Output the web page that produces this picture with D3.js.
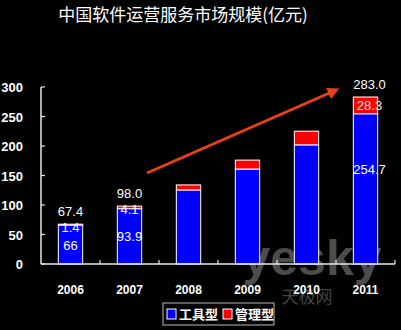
<!DOCTYPE html>
<html>
<head>
<meta charset="utf-8">
<script src="https://cdn.jsdelivr.net/npm/d3@7"></script>
<style>
  body { margin: 0; background: #000; }
  text { font-family: "Liberation Sans", Arial, sans-serif; }
</style>
</head>
<body>
<svg id="chart" width="401" height="330"></svg>
<script>
// data
const years = ["2006", "2007", "2008", "2009", "2010", "2011"];
const toolType = [66, 93.9, 125.5, 161, 202, 254.7];
const mgmtType = [1.4, 4.1, 8.5, 15, 23, 28.3];
const totals = [67.4, 98.0, 134, 176, 225, 283.0];
const yTicks = [0, 50, 100, 150, 200, 250, 300];
const seriesNames = ["工具型", "管理型"];
const seriesColors = ["#0000ff", "#ff0000"];

const svg = d3.select("#chart");
svg.append("rect").attr("width", 401).attr("height", 330).attr("fill", "#000");

const x = d3.scaleBand().domain(years).range([41, 395]).paddingInner(0.59).paddingOuter(0.295);
const y = d3.scaleLinear().domain([0, 300]).range([264, 87]);

// title
svg.append("text")
  .attr("x", 183).attr("y", 21)
  .attr("text-anchor", "middle")
  .attr("fill", "#fff")
  .style("font-family", "'Noto Sans CJK SC', sans-serif")
  .style("font-size", "17px")
  .text("中国软件运营服务市场规模(亿元)");

// watermark
const wm = svg.append("g").attr("opacity", 0.55);
wm.append("text").attr("x", 312).attr("y", 275).attr("text-anchor", "middle")
  .attr("fill", "#8a8a8a").style("font-size", "50px").style("font-weight", "bold")
  .text("yesky");
wm.append("text").attr("x", 307).attr("y", 303).attr("text-anchor", "middle")
  .attr("fill", "#7a7a7a").style("font-family", "'Noto Sans CJK SC', sans-serif")
  .style("font-size", "17px").text("天极网");

// stacked bars
const stack = years.map((yr, i) => ({ year: yr, a: toolType[i], b: mgmtType[i] }));

const bars = svg.append("g");
bars.selectAll(".tool").data(stack).enter().append("rect")
  .attr("x", d => x(d.year))
  .attr("width", x.bandwidth())
  .attr("y", d => y(d.a))
  .attr("height", d => y(0) - y(d.a))
  .attr("fill", seriesColors[0])
  .attr("stroke", "#d8d8ff").attr("stroke-width", 1.2);

bars.selectAll(".mgmt").data(stack).enter().append("rect")
  .attr("x", d => x(d.year))
  .attr("width", x.bandwidth())
  .attr("y", d => y(d.a + d.b))
  .attr("height", d => y(d.a) - y(d.a + d.b))
  .attr("fill", seriesColors[1])
  .attr("stroke", "#ffd8d8").attr("stroke-width", 1.2);

// axes
const axisColor = "#e8e8e8";
svg.append("line").attr("x1", 41).attr("x2", 41).attr("y1", y(300)).attr("y2", y(0))
  .attr("stroke", axisColor).attr("stroke-width", 1.5);
svg.append("line").attr("x1", 41).attr("x2", 395).attr("y1", y(0)).attr("y2", y(0))
  .attr("stroke", axisColor).attr("stroke-width", 1.5);

svg.selectAll(".ytick").data(yTicks).enter().append("line")
  .attr("x1", 41).attr("x2", 45)
  .attr("y1", d => y(d)).attr("y2", d => y(d))
  .attr("stroke", axisColor).attr("stroke-width", 1.2);

svg.selectAll(".ylab").data(yTicks).enter().append("text")
  .attr("x", 23).attr("y", d => y(d) + 5)
  .attr("text-anchor", "end")
  .attr("fill", "#fff")
  .style("font-size", "13px").style("font-weight", "bold")
  .text(d => d);

const step = x.step();
svg.selectAll(".xtick").data(years).enter().append("line")
  .attr("x1", d => x(d) - x.paddingOuter() * step + step)
  .attr("x2", d => x(d) - x.paddingOuter() * step + step)
  .attr("y1", y(0)).attr("y2", y(0) - 4)
  .attr("stroke", axisColor).attr("stroke-width", 1.2);

svg.selectAll(".xlab").data(years).enter().append("text")
  .attr("x", d => x(d) + x.bandwidth() / 2)
  .attr("y", 294)
  .attr("text-anchor", "middle")
  .attr("fill", "#fff")
  .style("font-size", "12px").style("font-weight", "bold")
  .text(d => d);

// value labels (only the years that carry them)
const labelled = [0, 1, 5];
const lab = svg.append("g").attr("fill", "#fff").style("font-size", "13px").attr("text-anchor", "middle");
labelled.forEach(i => {
  const cx = x(years[i]) + x.bandwidth() / 2 + (i === 5 ? 4 : 0);
  lab.append("text").attr("x", cx).attr("y", y(totals[i]) - 8).text(totals[i].toFixed(1));
  lab.append("text").attr("x", cx).attr("y", y(toolType[i] + mgmtType[i] / 2) + 5 + (i === 5 ? 0 : 2))
    .attr("fill", i === 5 ? "#ffe0e0" : "#fff").text(mgmtType[i].toFixed(1));
  const mid = i === 5 ? y(toolType[i] * 0.6) : y(toolType[i] / 2) + 5;
  lab.append("text").attr("x", cx).attr("y", mid)
    .text(i === 0 ? "66" : toolType[i].toFixed(1));
});

// growth arrow
svg.append("defs").append("marker")
  .attr("id", "head").attr("viewBox", "0 0 10 10")
  .attr("refX", 5).attr("refY", 5)
  .attr("markerWidth", 4).attr("markerHeight", 4)
  .attr("orient", "auto")
  .append("path").attr("d", "M0,0L10,5L0,10z").attr("fill", "#e8401c");

svg.append("line")
  .attr("x1", 147).attr("y1", 173).attr("x2", 334).attr("y2", 91)
  .attr("stroke", "#e8401c").attr("stroke-width", 3)
  .attr("marker-end", "url(#head)");

// legend
const lg = svg.append("g").attr("transform", "translate(163,303)");
lg.append("rect").attr("width", 111).attr("height", 22)
  .attr("fill", "#000").attr("stroke", "#bbb").attr("stroke-width", 1);
seriesNames.forEach((name, i) => {
  const ox = 4 + i * 56;
  lg.append("rect").attr("x", ox).attr("y", 6).attr("width", 9).attr("height", 10)
    .attr("fill", seriesColors[i]).attr("stroke", "#fff").attr("stroke-width", 1);
  lg.append("text").attr("x", ox + 12).attr("y", 16)
    .attr("fill", "#fff")
    .style("font-family", "'Noto Sans CJK SC', sans-serif")
    .style("font-size", "13px").style("font-weight", "bold")
    .text(name);
});
</script>
</body>
</html>
